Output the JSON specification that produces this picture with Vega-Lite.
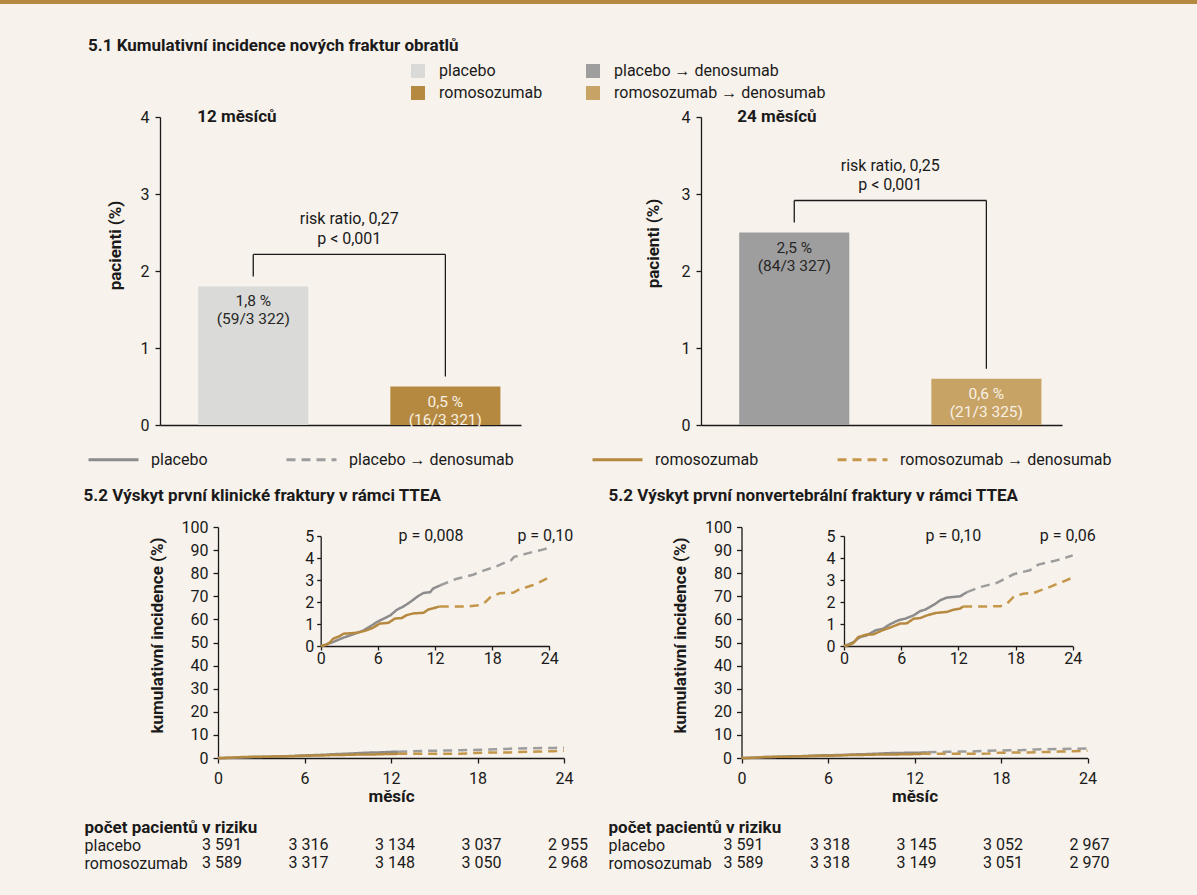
{
  "$schema": "https://vega.github.io/schema/vega-lite/v6.json",
  "width": 1197,
  "height": 891,
  "autosize": {"type": "none"},
  "padding": {"top": 4, "left": 0, "right": 0, "bottom": 0},
  "background": "#b5893f",
  "title": {
    "text": "5.1 Kumulativní incidence nových fraktur obratlů",
    "anchor": "start",
    "frame": "group",
    "orient": "top",
    "offset": -51,
    "dx": 88,
    "font": "Roboto",
    "fontSize": 17,
    "fontWeight": "bold",
    "color": "#1a1a1a"
  },
  "config": {
    "font": "Roboto",
    "view": {"fill": "#f8f2ec", "stroke": null},
    "axis": {
      "labelFont": "Roboto", "labelFontSize": 16, "labelColor": "#1a1a1a",
      "titleFont": "Roboto", "titleFontSize": 17, "titleFontWeight": "bold", "titleColor": "#1a1a1a",
      "domainColor": "#1a1a1a", "tickColor": "#1a1a1a", "domainWidth": 1.3, "tickWidth": 1.3,
      "tickSize": 5, "grid": false, "labelFlush": false, "labelOverlap": false
    },
    "legend": {"labelFont": "Roboto", "labelFontSize": 16, "labelColor": "#1a1a1a", "labelLimit": 400},
    "text": {"font": "Roboto", "fontSize": 16, "color": "#1a1a1a"}
  },
  "datasets": {
    "bars": [
      {"period": "12 měsíců", "group": "placebo", "pct": 1.8, "label": "1,8 %\n(59/3 322)"},
      {"period": "12 měsíců", "group": "romosozumab", "pct": 0.5, "label": "0,5 %\n(16/3 321)"},
      {"period": "24 měsíců", "group": "placebo → denosumab", "pct": 2.5, "label": "2,5 %\n(84/3 327)"},
      {"period": "24 měsíců", "group": "romosozumab → denosumab", "pct": 0.6, "label": "0,6 %\n(21/3 325)"}
    ],
    "cmp": [
      {"period": "12 měsíců", "a": "placebo", "b": "romosozumab", "aPct": 1.8, "bPct": 0.5, "rr": "risk ratio, 0,27\np < 0,001"},
      {"period": "24 měsíců", "a": "placebo → denosumab", "b": "romosozumab → denosumab", "aPct": 2.5, "bPct": 0.6, "rr": "risk ratio, 0,25\np < 0,001"}
    ],
    "pvals": [
      {"panel": "klinické", "month": 12, "label": "p = 0,008"},
      {"panel": "klinické", "month": 24, "label": "p = 0,10"},
      {"panel": "nonvertebrální", "month": 12, "label": "p = 0,10"},
      {"panel": "nonvertebrální", "month": 24, "label": "p = 0,06"}
    ],
    "risk": [
      {"panel": "klinické", "arm": "placebo", "month": 0, "n": "3 591"},
      {"panel": "klinické", "arm": "placebo", "month": 6, "n": "3 316"},
      {"panel": "klinické", "arm": "placebo", "month": 12, "n": "3 134"},
      {"panel": "klinické", "arm": "placebo", "month": 18, "n": "3 037"},
      {"panel": "klinické", "arm": "placebo", "month": 24, "n": "2 955"},
      {"panel": "klinické", "arm": "romosozumab", "month": 0, "n": "3 589"},
      {"panel": "klinické", "arm": "romosozumab", "month": 6, "n": "3 317"},
      {"panel": "klinické", "arm": "romosozumab", "month": 12, "n": "3 148"},
      {"panel": "klinické", "arm": "romosozumab", "month": 18, "n": "3 050"},
      {"panel": "klinické", "arm": "romosozumab", "month": 24, "n": "2 968"},
      {"panel": "nonvertebrální", "arm": "placebo", "month": 0, "n": "3 591"},
      {"panel": "nonvertebrální", "arm": "placebo", "month": 6, "n": "3 318"},
      {"panel": "nonvertebrální", "arm": "placebo", "month": 12, "n": "3 145"},
      {"panel": "nonvertebrální", "arm": "placebo", "month": 18, "n": "3 052"},
      {"panel": "nonvertebrální", "arm": "placebo", "month": 24, "n": "2 967"},
      {"panel": "nonvertebrální", "arm": "romosozumab", "month": 0, "n": "3 589"},
      {"panel": "nonvertebrální", "arm": "romosozumab", "month": 6, "n": "3 318"},
      {"panel": "nonvertebrální", "arm": "romosozumab", "month": 12, "n": "3 149"},
      {"panel": "nonvertebrální", "arm": "romosozumab", "month": 18, "n": "3 051"},
      {"panel": "nonvertebrální", "arm": "romosozumab", "month": 24, "n": "2 970"}
    ],
    "km": [
      {"panel": "klinické", "series": "placebo", "month": 0, "pct": 0},
      {"panel": "klinické", "series": "placebo", "month": 0.5, "pct": 0.06},
      {"panel": "klinické", "series": "placebo", "month": 1.3, "pct": 0.18},
      {"panel": "klinické", "series": "placebo", "month": 2.4, "pct": 0.38},
      {"panel": "klinické", "series": "placebo", "month": 3.6, "pct": 0.56},
      {"panel": "klinické", "series": "placebo", "month": 4.5, "pct": 0.71},
      {"panel": "klinické", "series": "placebo", "month": 5.2, "pct": 0.89},
      {"panel": "klinické", "series": "placebo", "month": 5.9, "pct": 1.09},
      {"panel": "klinické", "series": "placebo", "month": 6.6, "pct": 1.24},
      {"panel": "klinické", "series": "placebo", "month": 7.3, "pct": 1.39},
      {"panel": "klinické", "series": "placebo", "month": 8.0, "pct": 1.65},
      {"panel": "klinické", "series": "placebo", "month": 8.7, "pct": 1.8},
      {"panel": "klinické", "series": "placebo", "month": 9.4, "pct": 2.0},
      {"panel": "klinické", "series": "placebo", "month": 10.2, "pct": 2.26},
      {"panel": "klinické", "series": "placebo", "month": 10.8, "pct": 2.41},
      {"panel": "klinické", "series": "placebo", "month": 11.5, "pct": 2.45},
      {"panel": "klinické", "series": "placebo", "month": 11.8, "pct": 2.61},
      {"panel": "klinické", "series": "placebo", "month": 12.5, "pct": 2.75},
      {"panel": "klinické", "series": "placebo → denosumab", "month": 12.5, "pct": 2.75},
      {"panel": "klinické", "series": "placebo → denosumab", "month": 13.5, "pct": 2.92},
      {"panel": "klinické", "series": "placebo → denosumab", "month": 14.3, "pct": 3.06},
      {"panel": "klinické", "series": "placebo → denosumab", "month": 15.2, "pct": 3.15},
      {"panel": "klinické", "series": "placebo → denosumab", "month": 16.0, "pct": 3.24},
      {"panel": "klinické", "series": "placebo → denosumab", "month": 16.8, "pct": 3.38},
      {"panel": "klinické", "series": "placebo → denosumab", "month": 17.4, "pct": 3.47},
      {"panel": "klinické", "series": "placebo → denosumab", "month": 18.5, "pct": 3.63},
      {"panel": "klinické", "series": "placebo → denosumab", "month": 19.5, "pct": 3.82},
      {"panel": "klinické", "series": "placebo → denosumab", "month": 20.0, "pct": 3.9},
      {"panel": "klinické", "series": "placebo → denosumab", "month": 20.3, "pct": 4.05},
      {"panel": "klinické", "series": "placebo → denosumab", "month": 21.0, "pct": 4.12},
      {"panel": "klinické", "series": "placebo → denosumab", "month": 21.6, "pct": 4.2},
      {"panel": "klinické", "series": "placebo → denosumab", "month": 22.5, "pct": 4.3},
      {"panel": "klinické", "series": "placebo → denosumab", "month": 23.3, "pct": 4.38},
      {"panel": "klinické", "series": "placebo → denosumab", "month": 24, "pct": 4.47},
      {"panel": "klinické", "series": "romosozumab", "month": 0, "pct": 0},
      {"panel": "klinické", "series": "romosozumab", "month": 0.6, "pct": 0.05},
      {"panel": "klinické", "series": "romosozumab", "month": 1.0, "pct": 0.18},
      {"panel": "klinické", "series": "romosozumab", "month": 1.3, "pct": 0.33},
      {"panel": "klinické", "series": "romosozumab", "month": 2.0, "pct": 0.45},
      {"panel": "klinické", "series": "romosozumab", "month": 2.4, "pct": 0.56},
      {"panel": "klinické", "series": "romosozumab", "month": 3.1, "pct": 0.58},
      {"panel": "klinické", "series": "romosozumab", "month": 3.8, "pct": 0.6},
      {"panel": "klinické", "series": "romosozumab", "month": 4.3, "pct": 0.65},
      {"panel": "klinické", "series": "romosozumab", "month": 4.8, "pct": 0.71},
      {"panel": "klinické", "series": "romosozumab", "month": 5.5, "pct": 0.83},
      {"panel": "klinické", "series": "romosozumab", "month": 6.2, "pct": 1.02},
      {"panel": "klinické", "series": "romosozumab", "month": 7.1, "pct": 1.05},
      {"panel": "klinické", "series": "romosozumab", "month": 7.8, "pct": 1.25},
      {"panel": "klinické", "series": "romosozumab", "month": 8.5, "pct": 1.27},
      {"panel": "klinické", "series": "romosozumab", "month": 9.0, "pct": 1.4},
      {"panel": "klinické", "series": "romosozumab", "month": 9.7, "pct": 1.48},
      {"panel": "klinické", "series": "romosozumab", "month": 10.8, "pct": 1.51},
      {"panel": "klinické", "series": "romosozumab", "month": 11.3, "pct": 1.66},
      {"panel": "klinické", "series": "romosozumab", "month": 11.8, "pct": 1.71},
      {"panel": "klinické", "series": "romosozumab", "month": 12.5, "pct": 1.8},
      {"panel": "klinické", "series": "romosozumab → denosumab", "month": 12.5, "pct": 1.8},
      {"panel": "klinické", "series": "romosozumab → denosumab", "month": 14.0, "pct": 1.8},
      {"panel": "klinické", "series": "romosozumab → denosumab", "month": 15.5, "pct": 1.8},
      {"panel": "klinické", "series": "romosozumab → denosumab", "month": 16.7, "pct": 1.86},
      {"panel": "klinické", "series": "romosozumab → denosumab", "month": 17.3, "pct": 2.0},
      {"panel": "klinické", "series": "romosozumab → denosumab", "month": 17.8, "pct": 2.21},
      {"panel": "klinické", "series": "romosozumab → denosumab", "month": 18.8, "pct": 2.4},
      {"panel": "klinické", "series": "romosozumab → denosumab", "month": 20.2, "pct": 2.42},
      {"panel": "klinické", "series": "romosozumab → denosumab", "month": 20.9, "pct": 2.58},
      {"panel": "klinické", "series": "romosozumab → denosumab", "month": 21.5, "pct": 2.66},
      {"panel": "klinické", "series": "romosozumab → denosumab", "month": 22.3, "pct": 2.77},
      {"panel": "klinické", "series": "romosozumab → denosumab", "month": 23.2, "pct": 2.95},
      {"panel": "klinické", "series": "romosozumab → denosumab", "month": 24, "pct": 3.12},
      {"panel": "nonvertebrální", "series": "placebo", "month": 0, "pct": 0},
      {"panel": "nonvertebrální", "series": "placebo", "month": 0.5, "pct": 0.08},
      {"panel": "nonvertebrální", "series": "placebo", "month": 1.0, "pct": 0.18},
      {"panel": "nonvertebrální", "series": "placebo", "month": 1.7, "pct": 0.41},
      {"panel": "nonvertebrální", "series": "placebo", "month": 2.4, "pct": 0.48},
      {"panel": "nonvertebrální", "series": "placebo", "month": 3.3, "pct": 0.71},
      {"panel": "nonvertebrální", "series": "placebo", "month": 4.1, "pct": 0.79},
      {"panel": "nonvertebrální", "series": "placebo", "month": 4.8, "pct": 0.98},
      {"panel": "nonvertebrální", "series": "placebo", "month": 5.7, "pct": 1.17},
      {"panel": "nonvertebrální", "series": "placebo", "month": 6.4, "pct": 1.24},
      {"panel": "nonvertebrální", "series": "placebo", "month": 7.3, "pct": 1.39},
      {"panel": "nonvertebrální", "series": "placebo", "month": 8.0, "pct": 1.59},
      {"panel": "nonvertebrální", "series": "placebo", "month": 8.5, "pct": 1.65},
      {"panel": "nonvertebrální", "series": "placebo", "month": 9.0, "pct": 1.77},
      {"panel": "nonvertebrální", "series": "placebo", "month": 9.6, "pct": 1.92},
      {"panel": "nonvertebrální", "series": "placebo", "month": 10.1, "pct": 2.08},
      {"panel": "nonvertebrální", "series": "placebo", "month": 10.8, "pct": 2.2},
      {"panel": "nonvertebrální", "series": "placebo", "month": 11.5, "pct": 2.23},
      {"panel": "nonvertebrální", "series": "placebo", "month": 12.2, "pct": 2.26},
      {"panel": "nonvertebrální", "series": "placebo", "month": 12.9, "pct": 2.45},
      {"panel": "nonvertebrální", "series": "placebo → denosumab", "month": 12.9, "pct": 2.45},
      {"panel": "nonvertebrální", "series": "placebo → denosumab", "month": 14.3, "pct": 2.68},
      {"panel": "nonvertebrální", "series": "placebo → denosumab", "month": 15.2, "pct": 2.78},
      {"panel": "nonvertebrální", "series": "placebo → denosumab", "month": 16.0, "pct": 2.86},
      {"panel": "nonvertebrální", "series": "placebo → denosumab", "month": 16.9, "pct": 3.06},
      {"panel": "nonvertebrální", "series": "placebo → denosumab", "month": 17.8, "pct": 3.26},
      {"panel": "nonvertebrální", "series": "placebo → denosumab", "month": 18.6, "pct": 3.35},
      {"panel": "nonvertebrální", "series": "placebo → denosumab", "month": 19.5, "pct": 3.44},
      {"panel": "nonvertebrální", "series": "placebo → denosumab", "month": 20.4, "pct": 3.7},
      {"panel": "nonvertebrální", "series": "placebo → denosumab", "month": 21.2, "pct": 3.78},
      {"panel": "nonvertebrální", "series": "placebo → denosumab", "month": 22.0, "pct": 3.86},
      {"panel": "nonvertebrální", "series": "placebo → denosumab", "month": 23.0, "pct": 3.98},
      {"panel": "nonvertebrální", "series": "placebo → denosumab", "month": 24, "pct": 4.12},
      {"panel": "nonvertebrální", "series": "romosozumab", "month": 0, "pct": 0},
      {"panel": "nonvertebrální", "series": "romosozumab", "month": 0.6, "pct": 0.05},
      {"panel": "nonvertebrální", "series": "romosozumab", "month": 1.0, "pct": 0.14},
      {"panel": "nonvertebrální", "series": "romosozumab", "month": 1.5, "pct": 0.41},
      {"panel": "nonvertebrální", "series": "romosozumab", "month": 2.4, "pct": 0.52},
      {"panel": "nonvertebrální", "series": "romosozumab", "month": 3.1, "pct": 0.53},
      {"panel": "nonvertebrální", "series": "romosozumab", "month": 4.0, "pct": 0.71},
      {"panel": "nonvertebrální", "series": "romosozumab", "month": 4.8, "pct": 0.83},
      {"panel": "nonvertebrální", "series": "romosozumab", "month": 5.9, "pct": 1.02},
      {"panel": "nonvertebrální", "series": "romosozumab", "month": 6.6, "pct": 1.03},
      {"panel": "nonvertebrální", "series": "romosozumab", "month": 7.3, "pct": 1.24},
      {"panel": "nonvertebrální", "series": "romosozumab", "month": 8.0, "pct": 1.27},
      {"panel": "nonvertebrální", "series": "romosozumab", "month": 8.7, "pct": 1.39},
      {"panel": "nonvertebrální", "series": "romosozumab", "month": 9.6, "pct": 1.5},
      {"panel": "nonvertebrální", "series": "romosozumab", "month": 10.8, "pct": 1.55},
      {"panel": "nonvertebrální", "series": "romosozumab", "month": 11.5, "pct": 1.65},
      {"panel": "nonvertebrální", "series": "romosozumab", "month": 12.2, "pct": 1.7},
      {"panel": "nonvertebrální", "series": "romosozumab", "month": 12.5, "pct": 1.8},
      {"panel": "nonvertebrální", "series": "romosozumab → denosumab", "month": 12.5, "pct": 1.8},
      {"panel": "nonvertebrální", "series": "romosozumab → denosumab", "month": 14.0, "pct": 1.8},
      {"panel": "nonvertebrální", "series": "romosozumab → denosumab", "month": 15.5, "pct": 1.8},
      {"panel": "nonvertebrální", "series": "romosozumab → denosumab", "month": 16.4, "pct": 1.81},
      {"panel": "nonvertebrální", "series": "romosozumab → denosumab", "month": 17.1, "pct": 1.92},
      {"panel": "nonvertebrální", "series": "romosozumab → denosumab", "month": 17.8, "pct": 2.23},
      {"panel": "nonvertebrální", "series": "romosozumab → denosumab", "month": 18.8, "pct": 2.38},
      {"panel": "nonvertebrální", "series": "romosozumab → denosumab", "month": 19.9, "pct": 2.41},
      {"panel": "nonvertebrální", "series": "romosozumab → denosumab", "month": 20.6, "pct": 2.53},
      {"panel": "nonvertebrální", "series": "romosozumab → denosumab", "month": 21.3, "pct": 2.62},
      {"panel": "nonvertebrální", "series": "romosozumab → denosumab", "month": 22.0, "pct": 2.76},
      {"panel": "nonvertebrální", "series": "romosozumab → denosumab", "month": 23.0, "pct": 2.93},
      {"panel": "nonvertebrální", "series": "romosozumab → denosumab", "month": 24, "pct": 3.11}
    ]
  },
  "layer": [
    {
      "data": {"name": "bars"},
      "transform": [{"filter": "datum.period === '12 měsíců'"}],
      "layer": [
        {
          "mark": {"type": "bar"},
          "encoding": {
            "x": {
              "field": "group", "type": "nominal",
              "scale": {"domain": ["placebo", "romosozumab"], "range": [160, 521], "paddingInner": 0.427, "paddingOuter": 0.153, "align": 0.65},
              "axis": {"orient": "bottom", "offset": -470, "labels": false, "ticks": false, "title": null, "domainWidth": 1.5}
            },
            "y": {
              "field": "pct", "type": "quantitative",
              "scale": {"domain": [0, 4], "range": [421, 113], "nice": false},
              "axis": {"orient": "left", "offset": -160, "values": [0, 1, 2, 3, 4], "format": "d", "labelPadding": 6, "title": "pacienti (%)", "titleAngle": -90, "titleX": -45, "titleY": 241, "titleBaseline": "middle", "titleAlign": "center"}
            },
            "fill": {
              "field": "group", "type": "nominal",
              "scale": {"range": ["#dadad8", "#9e9e9e", "#b5893f", "#c8a366"]},
              "legend": {"orient": "none", "legendX": 410, "legendY": 59, "columns": 2, "direction": "horizontal", "title": null, "symbolType": "square", "symbolSize": 196, "symbolStrokeWidth": 0, "labelOffset": 13, "columnPadding": 42, "rowPadding": 6, "padding": 0}
            }
          }
        },
        {
          "mark": {"type": "text", "baseline": "top", "align": "center", "yOffset": 8, "fontSize": 15.5, "lineBreak": "\n", "lineHeight": 18},
          "encoding": {
            "x": {"field": "group", "type": "nominal"},
            "y": {"field": "pct", "type": "quantitative"},
            "text": {"field": "label"},
            "color": {"condition": {"test": "indexof(datum.group, 'romosozumab') === 0", "value": "#f8f0e4"}, "value": "#262626"}
          }
        },
        {
          "data": {"name": "cmp"},
          "transform": [{"filter": "datum.period === '12 měsíců'"}],
          "layer": [
            {
              "mark": {"type": "rule", "yOffset": -10, "y2Offset": -32, "strokeWidth": 1.3, "color": "#1a1a1a"},
              "encoding": {
                "x": {"field": "a", "type": "nominal"},
                "y": {"field": "aPct", "type": "quantitative"},
                "y2": {"field": "aPct"}
              }
            },
            {
              "mark": {"type": "rule", "yOffset": -10, "y2Offset": -32, "strokeWidth": 1.3, "color": "#1a1a1a"},
              "encoding": {
                "x": {"field": "b", "type": "nominal"},
                "y": {"field": "bPct", "type": "quantitative"},
                "y2": {"field": "aPct"}
              }
            },
            {
              "mark": {"type": "rule", "yOffset": -32, "strokeWidth": 1.3, "color": "#1a1a1a"},
              "encoding": {
                "x": {"field": "a", "type": "nominal"},
                "x2": {"field": "b"},
                "y": {"field": "aPct", "type": "quantitative"}
              }
            },
            {
              "mark": {"type": "text", "align": "center", "baseline": "top", "dx": 96, "yOffset": -75, "lineBreak": "\n", "lineHeight": 19.5},
              "encoding": {
                "x": {"field": "a", "type": "nominal"},
                "y": {"field": "aPct", "type": "quantitative"},
                "text": {"field": "rr"}
              }
            },
            {
              "mark": {"type": "text", "align": "left", "baseline": "middle", "fontWeight": "bold", "fontSize": 17, "dx": -1},
              "encoding": {
                "x": {"field": "a", "type": "nominal", "bandPosition": 0},
                "y": {"datum": 4, "type": "quantitative"},
                "text": {"field": "period"}
              }
            }
          ]
        }
      ]
    },
    {
      "data": {"name": "bars"},
      "transform": [{"filter": "datum.period === '24 měsíců'"}],
      "layer": [
        {
          "mark": {"type": "bar"},
          "encoding": {
            "x": {
              "field": "group", "type": "nominal",
              "scale": {"domain": ["placebo → denosumab", "romosozumab → denosumab"], "range": [701, 1062], "paddingInner": 0.427, "paddingOuter": 0.153, "align": 0.65},
              "axis": {"orient": "bottom", "offset": -470, "labels": false, "ticks": false, "title": null, "domainWidth": 1.5}
            },
            "y": {
              "field": "pct", "type": "quantitative",
              "scale": {"domain": [0, 4], "range": [421, 113], "nice": false},
              "axis": {"orient": "left", "offset": -701, "values": [0, 1, 2, 3, 4], "format": "d", "labelPadding": 6, "title": "pacienti (%)", "titleAngle": -90, "titleX": -48, "titleY": 239, "titleBaseline": "middle", "titleAlign": "center"}
            },
            "fill": {
              "field": "group", "type": "nominal",
              "scale": {"range": ["#dadad8", "#9e9e9e", "#b5893f", "#c8a366"]},
              "legend": null
            }
          }
        },
        {
          "mark": {"type": "text", "baseline": "top", "align": "center", "yOffset": 8, "fontSize": 15.5, "lineBreak": "\n", "lineHeight": 18},
          "encoding": {
            "x": {"field": "group", "type": "nominal"},
            "y": {"field": "pct", "type": "quantitative"},
            "text": {"field": "label"},
            "color": {"condition": {"test": "indexof(datum.group, 'romosozumab') === 0", "value": "#f8f0e4"}, "value": "#262626"}
          }
        },
        {
          "data": {"name": "cmp"},
          "transform": [{"filter": "datum.period === '24 měsíců'"}],
          "layer": [
            {
              "mark": {"type": "rule", "yOffset": -10, "y2Offset": -32, "strokeWidth": 1.3, "color": "#1a1a1a"},
              "encoding": {
                "x": {"field": "a", "type": "nominal"},
                "y": {"field": "aPct", "type": "quantitative"},
                "y2": {"field": "aPct"}
              }
            },
            {
              "mark": {"type": "rule", "yOffset": -10, "y2Offset": -32, "strokeWidth": 1.3, "color": "#1a1a1a"},
              "encoding": {
                "x": {"field": "b", "type": "nominal"},
                "y": {"field": "bPct", "type": "quantitative"},
                "y2": {"field": "aPct"}
              }
            },
            {
              "mark": {"type": "rule", "yOffset": -32, "strokeWidth": 1.3, "color": "#1a1a1a"},
              "encoding": {
                "x": {"field": "a", "type": "nominal"},
                "x2": {"field": "b"},
                "y": {"field": "aPct", "type": "quantitative"}
              }
            },
            {
              "mark": {"type": "text", "align": "center", "baseline": "top", "dx": 96, "yOffset": -75, "lineBreak": "\n", "lineHeight": 19.5},
              "encoding": {
                "x": {"field": "a", "type": "nominal"},
                "y": {"field": "aPct", "type": "quantitative"},
                "text": {"field": "rr"}
              }
            },
            {
              "mark": {"type": "text", "align": "left", "baseline": "middle", "fontWeight": "bold", "fontSize": 17, "dx": -2},
              "encoding": {
                "x": {"field": "a", "type": "nominal", "bandPosition": 0},
                "y": {"datum": 4, "type": "quantitative"},
                "text": {"field": "period"}
              }
            }
          ]
        }
      ]
    },
    {
      "layer": [
        {
          "data": {"name": "km"},
          "transform": [{"filter": "datum.panel === 'klinické'"}],
          "mark": {"type": "line", "strokeWidth": 2.5},
          "encoding": {
            "x": {
              "field": "month", "type": "quantitative",
              "scale": {"domain": [0, 24], "range": [218, 564], "nice": false, "zero": false},
              "axis": {"orient": "bottom", "offset": -137, "values": [0, 6, 12, 18, 24], "format": "d", "labelPadding": 7, "title": "měsíc", "titlePadding": 2}
            },
            "y": {
              "field": "pct", "type": "quantitative",
              "scale": {"domain": [0, 100], "range": [754, 523], "nice": false},
              "axis": {"orient": "left", "offset": -218, "values": [0, 10, 20, 30, 40, 50, 60, 70, 80, 90, 100], "format": "d", "labelPadding": 5, "title": "kumulativní incidence (%)", "titleAngle": -90, "titleX": -61, "titleY": 631, "titleBaseline": "middle", "titleAlign": "center"}
            },
            "stroke": {
              "field": "series", "type": "nominal",
              "scale": {"range": ["#8c8c8c", "#9d9d9d", "#b5893f", "#c4974b"]},
              "legend": {"orient": "none", "legendX": 87, "legendY": 429, "direction": "horizontal", "title": null, "symbolType": "stroke", "symbolSize": 2500, "symbolStrokeWidth": 3, "labelOffset": 11, "columnPadding": 72, "padding": 0}
            },
            "strokeDash": {
              "field": "series", "type": "nominal",
              "scale": {"range": [[1, 0], [9, 6], [1, 0], [9, 6]]},
              "legend": {"orient": "none", "legendX": 87, "legendY": 429, "direction": "horizontal", "title": null, "symbolType": "stroke", "symbolSize": 2500, "symbolStrokeWidth": 3, "labelOffset": 11, "columnPadding": 72, "padding": 0}
            }
          }
        },
        {
          "data": {"name": "risk"},
          "transform": [{"filter": "datum.panel === 'klinické'"}],
          "mark": {"type": "text", "align": "right", "baseline": "middle", "dx": 24},
          "encoding": {
            "x": {
              "field": "month", "type": "quantitative",
              "axis": {"orient": "top", "offset": 0, "labels": false, "ticks": false, "domain": false, "title": "5.2 Výskyt první klinické fraktury v rámci TTEA", "titleX": 83, "titleY": 491, "titleAlign": "left", "titleBaseline": "middle", "titleAngle": 0}
            },
            "y": {
              "field": "arm", "type": "nominal",
              "scale": {"domain": ["placebo", "romosozumab"], "range": [832, 868], "paddingInner": 0, "paddingOuter": 0},
              "axis": {"orient": "left", "offset": -84, "ticks": false, "tickSize": 0, "domain": false, "labelAlign": "left", "labelPadding": 0, "title": "počet pacientů v riziku", "titleAngle": 0, "titleX": 0, "titleY": 823, "titleAlign": "left", "titleBaseline": "middle"}
            },
            "text": {"field": "n"}
          }
        }
      ],
      "resolve": {"scale": {"y": "independent"}, "axis": {"x": "independent", "y": "independent"}}
    },
    {
      "layer": [
        {
          "data": {"name": "km"},
          "transform": [{"filter": "datum.panel === 'klinické'"}],
          "mark": {"type": "line", "strokeWidth": 2.5},
          "encoding": {
            "x": {
              "field": "month", "type": "quantitative",
              "scale": {"domain": [0, 24], "range": [320.7, 549.3], "nice": false, "zero": false},
              "axis": {"orient": "bottom", "offset": -249, "values": [0, 6, 12, 18, 24], "format": "d", "tickSize": 4, "labelPadding": 0, "title": null}
            },
            "y": {
              "field": "pct", "type": "quantitative",
              "scale": {"domain": [0, 5], "range": [642, 532], "nice": false},
              "axis": {"orient": "left", "offset": -320.7, "values": [0, 1, 2, 3, 4, 5], "format": "d", "tickSize": 4, "labelPadding": 3, "title": null}
            },
            "stroke": {"field": "series", "type": "nominal", "scale": {"range": ["#8c8c8c", "#9d9d9d", "#b5893f", "#c4974b"]}, "legend": null},
            "strokeDash": {"field": "series", "type": "nominal", "scale": {"range": [[1, 0], [9, 6], [1, 0], [9, 6]]}, "legend": null}
          }
        },
        {
          "data": {"name": "pvals"},
          "transform": [{"filter": "datum.panel === 'klinické'"}],
          "mark": {"type": "text", "align": "center", "baseline": "middle", "dx": -4},
          "encoding": {
            "x": {"field": "month", "type": "quantitative"},
            "y": {"datum": 5, "type": "quantitative"},
            "text": {"field": "label"}
          }
        }
      ]
    },
    {
      "layer": [
        {
          "data": {"name": "km"},
          "transform": [{"filter": "datum.panel === 'nonvertebrální'"}],
          "mark": {"type": "line", "strokeWidth": 2.5},
          "encoding": {
            "x": {
              "field": "month", "type": "quantitative",
              "scale": {"domain": [0, 24], "range": [741.5, 1087.5], "nice": false, "zero": false},
              "axis": {"orient": "bottom", "offset": -137, "values": [0, 6, 12, 18, 24], "format": "d", "labelPadding": 7, "title": "měsíc", "titlePadding": 2}
            },
            "y": {
              "field": "pct", "type": "quantitative",
              "scale": {"domain": [0, 100], "range": [754, 523], "nice": false},
              "axis": {"orient": "left", "offset": -741.5, "values": [0, 10, 20, 30, 40, 50, 60, 70, 80, 90, 100], "format": "d", "labelPadding": 5, "title": "kumulativní incidence (%)", "titleAngle": -90, "titleX": -61, "titleY": 631, "titleBaseline": "middle", "titleAlign": "center"}
            },
            "stroke": {"field": "series", "type": "nominal", "scale": {"range": ["#8c8c8c", "#9d9d9d", "#b5893f", "#c4974b"]}, "legend": null},
            "strokeDash": {"field": "series", "type": "nominal", "scale": {"range": [[1, 0], [9, 6], [1, 0], [9, 6]]}, "legend": null}
          }
        },
        {
          "data": {"name": "risk"},
          "transform": [{"filter": "datum.panel === 'nonvertebrální'"}],
          "mark": {"type": "text", "align": "right", "baseline": "middle", "dx": 22},
          "encoding": {
            "x": {
              "field": "month", "type": "quantitative",
              "axis": {"orient": "top", "offset": 0, "labels": false, "ticks": false, "domain": false, "title": "5.2 Výskyt první nonvertebrální fraktury v rámci TTEA", "titleX": 608, "titleY": 491, "titleAlign": "left", "titleBaseline": "middle", "titleAngle": 0}
            },
            "y": {
              "field": "arm", "type": "nominal",
              "scale": {"domain": ["placebo", "romosozumab"], "range": [832, 868], "paddingInner": 0, "paddingOuter": 0},
              "axis": {"orient": "left", "offset": -608, "ticks": false, "tickSize": 0, "domain": false, "labelAlign": "left", "labelPadding": 0, "title": "počet pacientů v riziku", "titleAngle": 0, "titleX": 0, "titleY": 823, "titleAlign": "left", "titleBaseline": "middle"}
            },
            "text": {"field": "n"}
          }
        }
      ],
      "resolve": {"scale": {"y": "independent"}, "axis": {"x": "independent", "y": "independent"}}
    },
    {
      "layer": [
        {
          "data": {"name": "km"},
          "transform": [{"filter": "datum.panel === 'nonvertebrální'"}],
          "mark": {"type": "line", "strokeWidth": 2.5},
          "encoding": {
            "x": {
              "field": "month", "type": "quantitative",
              "scale": {"domain": [0, 24], "range": [844, 1072.7], "nice": false, "zero": false},
              "axis": {"orient": "bottom", "offset": -249, "values": [0, 6, 12, 18, 24], "format": "d", "tickSize": 4, "labelPadding": 0, "title": null}
            },
            "y": {
              "field": "pct", "type": "quantitative",
              "scale": {"domain": [0, 5], "range": [642, 532], "nice": false},
              "axis": {"orient": "left", "offset": -844, "values": [0, 1, 2, 3, 4, 5], "format": "d", "tickSize": 4, "labelPadding": 5, "title": null}
            },
            "stroke": {"field": "series", "type": "nominal", "scale": {"range": ["#8c8c8c", "#9d9d9d", "#b5893f", "#c4974b"]}, "legend": null},
            "strokeDash": {"field": "series", "type": "nominal", "scale": {"range": [[1, 0], [9, 6], [1, 0], [9, 6]]}, "legend": null}
          }
        },
        {
          "data": {"name": "pvals"},
          "transform": [{"filter": "datum.panel === 'nonvertebrální'"}],
          "mark": {"type": "text", "align": "center", "baseline": "middle", "dx": -5},
          "encoding": {
            "x": {"field": "month", "type": "quantitative"},
            "y": {"datum": 5, "type": "quantitative"},
            "text": {"field": "label"}
          }
        }
      ]
    }
  ],
  "resolve": {"scale": {"x": "independent", "y": "independent"}, "axis": {"x": "independent", "y": "independent"}}
}
